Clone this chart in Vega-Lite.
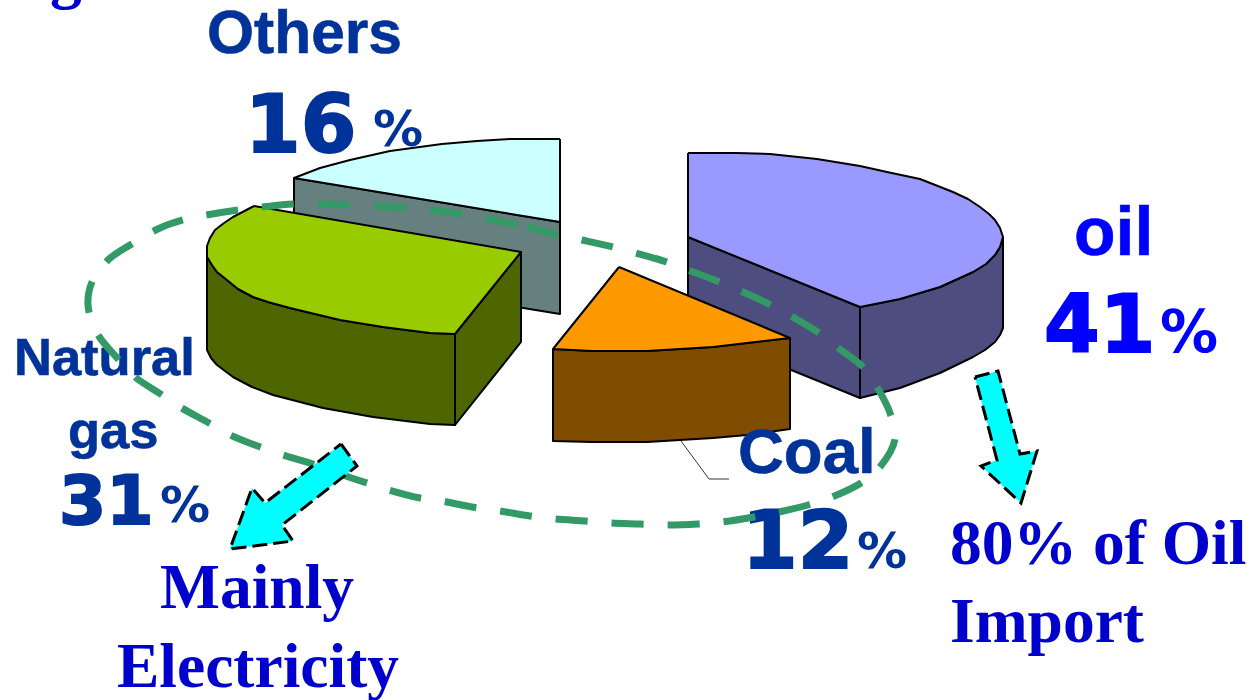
{"$schema":"https://vega.github.io/schema/vega-lite/v6.json","width":1251,"height":700,"padding":0,"autosize":"none","background":"white","config":{"view":{"stroke":null}},
"datasets":{
"pieces":[
{"part":"Others side","x":294,"y":178},{"part":"Others side","x":560,"y":222},{"part":"Others side","x":560,"y":314},{"part":"Others side","x":294,"y":270},{"part":"Others side","x":294,"y":178},
{"part":"Others top","x":560,"y":139},{"part":"Others top","x":510,"y":139},{"part":"Others top","x":477,"y":141},{"part":"Others top","x":442,"y":144},{"part":"Others top","x":390,"y":151},{"part":"Others top","x":350,"y":160},{"part":"Others top","x":320,"y":168},{"part":"Others top","x":294,"y":178},{"part":"Others top","x":560,"y":222},{"part":"Others top","x":560,"y":139},
{"part":"Gas outer","x":455,"y":334},{"part":"Gas outer","x":430,"y":333},{"part":"Gas outer","x":383,"y":327},{"part":"Gas outer","x":340,"y":320},{"part":"Gas outer","x":290,"y":308},{"part":"Gas outer","x":268,"y":302},{"part":"Gas outer","x":253,"y":297},{"part":"Gas outer","x":238,"y":289},{"part":"Gas outer","x":227,"y":280},{"part":"Gas outer","x":217,"y":272},{"part":"Gas outer","x":212,"y":265},{"part":"Gas outer","x":207,"y":257},{"part":"Gas outer","x":207,"y":350},{"part":"Gas outer","x":211,"y":358},{"part":"Gas outer","x":217,"y":365},{"part":"Gas outer","x":233,"y":377},{"part":"Gas outer","x":252,"y":387},{"part":"Gas outer","x":273,"y":395},{"part":"Gas outer","x":323,"y":408},{"part":"Gas outer","x":373,"y":417},{"part":"Gas outer","x":430,"y":424},{"part":"Gas outer","x":455,"y":425},{"part":"Gas outer","x":455,"y":334},
{"part":"Gas inner","x":455,"y":334},{"part":"Gas inner","x":521,"y":252},{"part":"Gas inner","x":521,"y":342},{"part":"Gas inner","x":455,"y":425},{"part":"Gas inner","x":455,"y":334},
{"part":"Gas top","x":254,"y":206},{"part":"Gas top","x":521,"y":252},{"part":"Gas top","x":455,"y":334},{"part":"Gas top","x":430,"y":333},{"part":"Gas top","x":383,"y":327},{"part":"Gas top","x":340,"y":320},{"part":"Gas top","x":290,"y":308},{"part":"Gas top","x":268,"y":302},{"part":"Gas top","x":253,"y":297},{"part":"Gas top","x":238,"y":289},{"part":"Gas top","x":227,"y":280},{"part":"Gas top","x":217,"y":272},{"part":"Gas top","x":212,"y":265},{"part":"Gas top","x":207,"y":257},{"part":"Gas top","x":207,"y":246},{"part":"Gas top","x":210,"y":238},{"part":"Gas top","x":215,"y":230},{"part":"Gas top","x":224,"y":223},{"part":"Gas top","x":233,"y":217},{"part":"Gas top","x":254,"y":206},
{"part":"Oil inner","x":688,"y":237},{"part":"Oil inner","x":860,"y":307},{"part":"Oil inner","x":860,"y":398},{"part":"Oil inner","x":688,"y":328},{"part":"Oil inner","x":688,"y":237},
{"part":"Oil outer","x":860,"y":307},{"part":"Oil outer","x":900,"y":299},{"part":"Oil outer","x":940,"y":287},{"part":"Oil outer","x":973,"y":272},{"part":"Oil outer","x":986,"y":264},{"part":"Oil outer","x":995,"y":255},{"part":"Oil outer","x":1000,"y":247},{"part":"Oil outer","x":1003,"y":237},{"part":"Oil outer","x":1003,"y":328},{"part":"Oil outer","x":1000,"y":335},{"part":"Oil outer","x":995,"y":342},{"part":"Oil outer","x":985,"y":350},{"part":"Oil outer","x":973,"y":357},{"part":"Oil outer","x":940,"y":373},{"part":"Oil outer","x":900,"y":388},{"part":"Oil outer","x":860,"y":398},{"part":"Oil outer","x":860,"y":307},
{"part":"Oil top","x":688,"y":153},{"part":"Oil top","x":737,"y":153},{"part":"Oil top","x":770,"y":154},{"part":"Oil top","x":817,"y":159},{"part":"Oil top","x":860,"y":166},{"part":"Oil top","x":887,"y":172},{"part":"Oil top","x":920,"y":179},{"part":"Oil top","x":953,"y":192},{"part":"Oil top","x":968,"y":199},{"part":"Oil top","x":980,"y":207},{"part":"Oil top","x":989,"y":214},{"part":"Oil top","x":995,"y":220},{"part":"Oil top","x":1000,"y":228},{"part":"Oil top","x":1003,"y":237},{"part":"Oil top","x":1000,"y":247},{"part":"Oil top","x":995,"y":255},{"part":"Oil top","x":986,"y":264},{"part":"Oil top","x":973,"y":272},{"part":"Oil top","x":940,"y":287},{"part":"Oil top","x":900,"y":299},{"part":"Oil top","x":860,"y":307},{"part":"Oil top","x":688,"y":237},{"part":"Oil top","x":688,"y":153},
{"part":"Coal side","x":553,"y":349},{"part":"Coal side","x":592,"y":351},{"part":"Coal side","x":647,"y":351},{"part":"Coal side","x":713,"y":347},{"part":"Coal side","x":747,"y":343},{"part":"Coal side","x":790,"y":338},{"part":"Coal side","x":790,"y":429},{"part":"Coal side","x":747,"y":435},{"part":"Coal side","x":713,"y":438},{"part":"Coal side","x":647,"y":442},{"part":"Coal side","x":592,"y":442},{"part":"Coal side","x":553,"y":441},{"part":"Coal side","x":553,"y":349},
{"part":"Coal top","x":619,"y":267},{"part":"Coal top","x":790,"y":338},{"part":"Coal top","x":747,"y":343},{"part":"Coal top","x":713,"y":347},{"part":"Coal top","x":647,"y":351},{"part":"Coal top","x":592,"y":351},{"part":"Coal top","x":553,"y":349},{"part":"Coal top","x":619,"y":267}
],
"ring":[{"x":527,"y":227},{"x":559,"y":235},{"x":582,"y":240},{"x":613,"y":247},{"x":636,"y":253},{"x":667,"y":262},{"x":688,"y":270},{"x":720,"y":282},{"x":741,"y":291},{"x":771,"y":305},{"x":791,"y":316},{"x":819,"y":333},{"x":837,"y":347},{"x":864,"y":368},{"x":877,"y":387},{"x":890,"y":413},{"x":895,"y":439},{"x":880,"y":467},{"x":861,"y":483},{"x":832,"y":497},{"x":808,"y":505},{"x":779,"y":512},{"x":754,"y":517},{"x":722,"y":522},{"x":698,"y":524},{"x":667,"y":525},{"x":640,"y":524},{"x":610,"y":523},{"x":585,"y":521},{"x":555,"y":519},{"x":530,"y":516},{"x":500,"y":511},{"x":472,"y":507},{"x":442,"y":501},{"x":420,"y":498},{"x":389,"y":490},{"x":367,"y":483},{"x":343,"y":475},{"x":313,"y":464},{"x":283,"y":455},{"x":260,"y":447},{"x":230,"y":435},{"x":209,"y":423},{"x":180,"y":407},{"x":162,"y":395},{"x":135,"y":377},{"x":118,"y":359},{"x":97,"y":333},{"x":88,"y":305},{"x":92,"y":282},{"x":108,"y":260},{"x":130,"y":245},{"x":160,"y":228},{"x":190,"y":218},{"x":206,"y":215},{"x":238,"y":210},{"x":262,"y":207},{"x":293,"y":204},{"x":318,"y":204},{"x":350,"y":205},{"x":373,"y":206},{"x":406,"y":208},{"x":429,"y":210},{"x":462,"y":214},{"x":485,"y":218},{"x":517,"y":225}],
"arrows":[
{"arrow":"Electricity","x":341,"y":444},{"arrow":"Electricity","x":357,"y":466},{"arrow":"Electricity","x":282,"y":525},{"arrow":"Electricity","x":293,"y":541},{"arrow":"Electricity","x":230,"y":549},{"arrow":"Electricity","x":252,"y":488},{"arrow":"Electricity","x":265,"y":503},{"arrow":"Electricity","x":341,"y":444},
{"arrow":"Import","x":975,"y":377},{"arrow":"Import","x":998,"y":371},{"arrow":"Import","x":1020,"y":454},{"arrow":"Import","x":1037,"y":451},{"arrow":"Import","x":1021,"y":503},{"arrow":"Import","x":981,"y":466},{"arrow":"Import","x":997,"y":460},{"arrow":"Import","x":975,"y":377}
]},
"encoding":{"x":{"field":"x","type":"quantitative","scale":{"domain":[0,1251],"nice":false,"zero":false},"axis":null},"y":{"field":"y","type":"quantitative","scale":{"domain":[700,0],"nice":false,"zero":false},"axis":null}},
"layer":[
{"data":{"name":"pieces"},"transform":[{"window":[{"op":"row_number","as":"seq"}]}],"mark":{"type":"line","stroke":"black","strokeWidth":2,"strokeJoin":"round"},"encoding":{"detail":{"field":"part"},"order":{"field":"seq","type":"quantitative"},"fill":{"field":"part","type":"nominal","legend":null,"scale":{"domain":["Others side","Others top","Gas outer","Gas inner","Gas top","Oil inner","Oil outer","Oil top","Coal side","Coal top"],"range":["#668080","#CCFFFF","#4D6600","#4D6600","#99CC00","#4D4D80","#4D4D80","#9999FF","#804D00","#FF9900"]}}}},
{"data":{"values":[{"x":681,"y":441},{"x":709,"y":479},{"x":729,"y":479}]},"mark":{"type":"line","stroke":"#333333","strokeWidth":1}},
{"data":{"values":[{"t":"Others","x":207,"y":53}]},"mark":{"type":"text","align":"left","baseline":"alphabetic","font":"Liberation Sans","fontWeight":"bold","fontSize":60.5,"fill":"#003399","stroke":"#003399","strokeWidth":0.6},"encoding":{"text":{"field":"t"}}},
{"data":{"values":[{"t":"Natural","x":14,"y":375},{"t":"gas","x":68,"y":448}]},"mark":{"type":"text","align":"left","baseline":"alphabetic","font":"Liberation Sans","fontWeight":"bold","fontSize":52.5,"fill":"#003399","stroke":"#003399","strokeWidth":0.6},"encoding":{"text":{"field":"t"}}},
{"data":{"values":[{"t":"Coal","x":738,"y":473}]},"mark":{"type":"text","align":"left","baseline":"alphabetic","font":"Liberation Sans","fontWeight":"bold","fontSize":63.5,"fill":"#003399","stroke":"#003399","strokeWidth":0.6},"encoding":{"text":{"field":"t"}}},
{"data":{"values":[{"t":"oil","x":1074,"y":255}]},"mark":{"type":"text","align":"left","baseline":"alphabetic","font":"Liberation Sans","fontWeight":"bold","fontSize":68,"fill":"#0000FF","stroke":"#0000FF","strokeWidth":0.6},"encoding":{"text":{"field":"t"}}},
{"data":{"values":[{"t":"16","x":245,"y":152},{"t":"12","x":742,"y":568}]},"mark":{"type":"text","align":"left","baseline":"alphabetic","font":"DejaVu Sans","fontWeight":"bold","fontSize":80,"fill":"#003399","stroke":"#003399","strokeWidth":2},"encoding":{"text":{"field":"t"}}},
{"data":{"values":[{"t":"31","x":59,"y":524}]},"mark":{"type":"text","align":"left","baseline":"alphabetic","font":"DejaVu Sans","fontWeight":"bold","fontSize":68,"fill":"#003399","stroke":"#003399","strokeWidth":2},"encoding":{"text":{"field":"t"}}},
{"data":{"values":[{"t":"41","x":1044,"y":352}]},"mark":{"type":"text","align":"left","baseline":"alphabetic","font":"DejaVu Sans","fontWeight":"bold","fontSize":80,"fill":"#0000FF","stroke":"#0000FF","strokeWidth":2},"encoding":{"text":{"field":"t"}}},
{"data":{"values":[{"t":"%","x":373,"y":146},{"t":"%","x":160,"y":522},{"t":"%","x":857,"y":568}]},"mark":{"type":"text","align":"left","baseline":"alphabetic","font":"DejaVu Sans","fontWeight":"bold","fontSize":50,"fill":"#003399"},"encoding":{"text":{"field":"t"}}},
{"data":{"values":[{"t":"%","x":1160,"y":352}]},"mark":{"type":"text","align":"left","baseline":"alphabetic","font":"DejaVu Sans","fontWeight":"bold","fontSize":58,"fill":"#0000FF"},"encoding":{"text":{"field":"t"}}},
{"data":{"name":"ring"},"transform":[{"window":[{"op":"row_number","as":"seq"}]}],"mark":{"type":"line","stroke":"#339966","strokeWidth":7,"strokeDash":[32,24.1],"strokeCap":"butt","interpolate":"catmull-rom"},"encoding":{"order":{"field":"seq","type":"quantitative"}}},
{"data":{"name":"arrows"},"transform":[{"window":[{"op":"row_number","as":"seq"}]}],"mark":{"type":"line","stroke":"black","fill":"#00FFFF","strokeWidth":3,"strokeDash":[15,6]},"encoding":{"detail":{"field":"arrow"},"order":{"field":"seq","type":"quantitative"}}},
{"data":{"values":[{"t":"g","x":50,"y":-4},{"t":"Mainly","x":160,"y":608},{"t":"Electricity","x":117,"y":687},{"t":"80% of Oil","x":950,"y":564},{"t":"Import","x":950,"y":642}]},"mark":{"type":"text","align":"left","baseline":"alphabetic","font":"Liberation Serif","fontWeight":"bold","fontSize":63.5,"fill":"#0000CC"},"encoding":{"text":{"field":"t"}}}
]}
